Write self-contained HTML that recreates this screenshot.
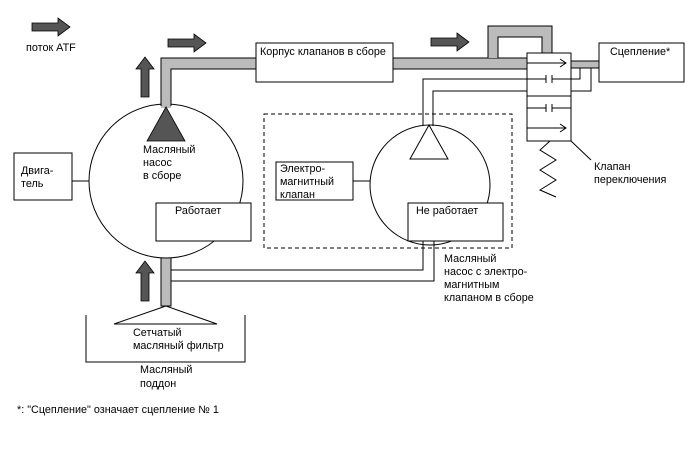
<!DOCTYPE html>
<html><head><meta charset="utf-8"><style>
html,body{margin:0;padding:0;background:#fff;}
svg{display:block;}
text{font-family:"Liberation Sans",sans-serif;font-size:10.8px;fill:#000;}
</style></head><body>
<svg width="688" height="463" viewBox="0 0 688 463" xmlns="http://www.w3.org/2000/svg">
<defs>
<g id="arR"><path d="M0,-4 H26 V-9 L38,0 L26,9 V4 H0 Z" fill="#555" stroke="#000" stroke-width="0.8"/></g>
<g id="arU"><path d="M-4,0 V-28 H-9 L0,-40 L9,-28 H4 V0 Z" fill="#555" stroke="#000" stroke-width="0.8"/></g>
</defs>
<use href="#arR" x="32" y="27"/>
<text x="26" y="51">поток ATF</text>
<use href="#arR" x="168" y="43"/>
<use href="#arR" x="431" y="42"/>
<use href="#arU" x="145" y="97"/>
<use href="#arU" x="145" y="301"/>
<path d="M161,110 V58 H527 V69 H171 V110 Z" fill="#bbb" stroke="#000" stroke-width="1"/>
<path d="M488,58 V26 H552 V53 H542 V37 H498 V58" fill="#bbb" stroke="#000" stroke-width="1"/>
<rect x="571" y="61" width="28" height="7" fill="#bbb" stroke="#000" stroke-width="1"/>
<rect x="161" y="256" width="10" height="50" fill="#bbb" stroke="#000" stroke-width="1"/>
<circle cx="166" cy="181" r="77" fill="#fff" stroke="#000" stroke-width="1"/>
<rect x="161" y="100" width="10" height="8" fill="#bbb"/>
<line x1="161" y1="100" x2="161" y2="106" stroke="#000"/><line x1="171" y1="100" x2="171" y2="106" stroke="#000"/>
<polygon points="166,107 147,141 185,141" fill="#555" stroke="#000" stroke-width="0.8"/>
<text x="143" y="153">Масляный</text>
<text x="143" y="166">насос</text>
<text x="143" y="179">в сборе</text>
<rect x="156" y="203" width="95" height="38" fill="#fff" stroke="#000"/>
<text x="175" y="214">Работает</text>
<rect x="14" y="153" width="58" height="47" fill="#fff" stroke="#000"/>
<text x="21" y="174">Двига-</text>
<text x="21" y="187">тель</text>
<line x1="72" y1="181" x2="89" y2="181" stroke="#000"/>
<rect x="256" y="43" width="137" height="39" fill="#fff" stroke="#000"/>
<text x="260" y="55">Корпус клапанов в сборе</text>
<rect x="264" y="114" width="248" height="134" fill="none" stroke="#000" stroke-dasharray="4,3"/>
<rect x="276" y="162" width="77" height="38" fill="#fff" stroke="#000"/>
<text x="280" y="172">Электро-</text>
<text x="280" y="185">магнитный</text>
<text x="280" y="198">клапан</text>
<line x1="353" y1="181" x2="370" y2="181" stroke="#000"/>
<circle cx="430" cy="185" r="60" fill="#fff" stroke="#000"/>
<polygon points="429,125 410,159 448,159" fill="#fff" stroke="#000"/>
<rect x="408" y="203" width="95" height="38" fill="#fff" stroke="#000"/>
<text x="416" y="214">Не работает</text>
<path d="M171,270 H423 V241 M171,281 H434 V241" fill="none" stroke="#000"/>
<path d="M423,125 V79 H527 M433,126 V91 H527" fill="none" stroke="#000"/>
<path d="M571,79 H580 V68 M571,91 H591 V68" fill="none" stroke="#000"/>
<rect x="527" y="53" width="44" height="88" fill="#fff" stroke="#000"/>
<path d="M527,63 H566 M560,59 L566,63 L560,67" fill="none" stroke="#000"/>
<path d="M527,79 H546 M552,79 H571 M546,75 V83 M552,75 V83" fill="none" stroke="#000"/>
<path d="M527,96 H571" fill="none" stroke="#000"/>
<path d="M527,108 H546 M552,108 H571 M546,104 V112 M552,104 V112" fill="none" stroke="#000"/>
<path d="M527,128 H566 M560,124 L566,128 L560,132" fill="none" stroke="#000"/>
<path d="M550,141 L540,150 L556,160 L540,170 L556,180 L540,190 L556,197" fill="none" stroke="#000"/>
<line x1="571" y1="141" x2="591" y2="160" stroke="#000"/>
<text x="594" y="170">Клапан</text>
<text x="594" y="183">переключения</text>
<rect x="599" y="43" width="85" height="39" fill="#fff" stroke="#000"/>
<text x="610" y="55">Сцепление*</text>
<text x="444" y="262">Масляный</text>
<text x="444" y="275">насос с электро-</text>
<text x="444" y="288">магнитным</text>
<text x="444" y="301">клапаном в сборе</text>
<path d="M86,315 V362 H245 V315" fill="none" stroke="#000"/>
<polygon points="166,306 114,324 217,324" fill="#fff" stroke="#000"/>
<text x="133" y="336">Сетчатый</text>
<text x="133" y="349">масляный фильтр</text>
<text x="140" y="373">Масляный</text>
<text x="140" y="387">поддон</text>
<text x="17" y="413">*: "Сцепление" означает сцепление № 1</text>
</svg>
</body></html>
